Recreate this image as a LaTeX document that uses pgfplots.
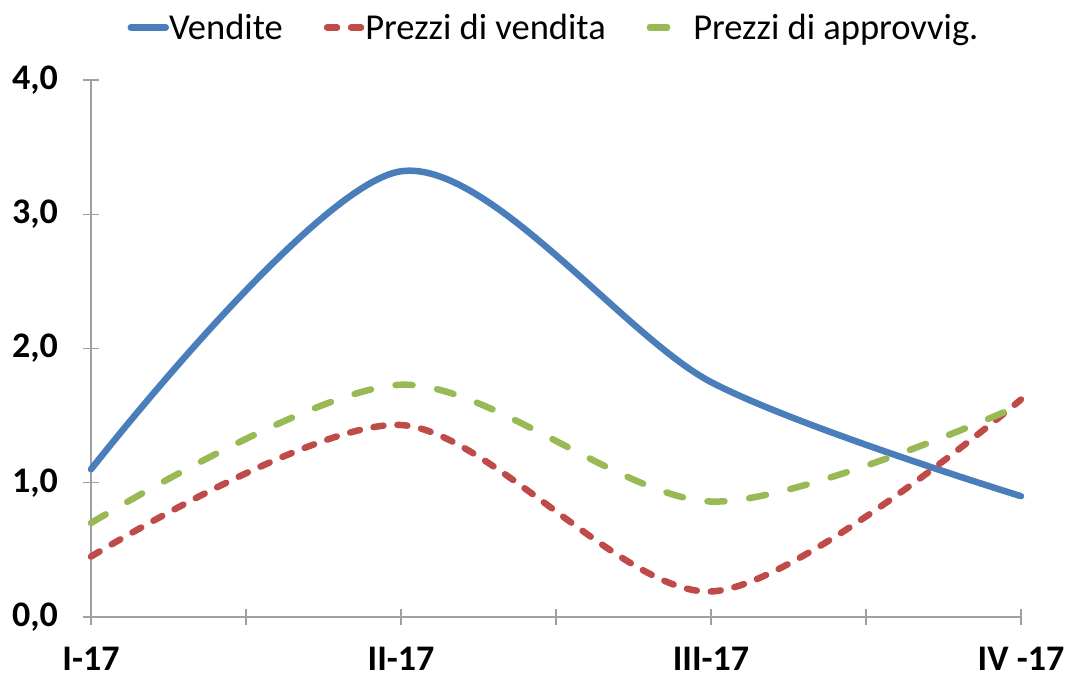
\documentclass[border=0pt]{standalone}
\usepackage{pgfplots}
\pgfplotsset{compat=1.18}
\usepackage{fontspec}
\setmainfont{Carlito}
\definecolor{cblue}{HTML}{4A7EBB}
\definecolor{cred}{HTML}{BE4B48}
\definecolor{cgreen}{HTML}{98B954}
\definecolor{axgray}{HTML}{A0A0A0}
\pgfplotsset{
  limgA/.style={legend image code/.code={\draw[##1, line width=6.5pt] (0pt,10pt) -- (35pt,10pt);}},
  limgB/.style={legend image code/.code={\draw[##1, line width=6.5pt] (0pt,10pt) -- (35pt,10pt);}},
  limgC/.style={legend image code/.code={\draw[##1, line width=6.5pt] (0pt,10pt) -- (17pt,10pt); \path (0pt,10pt) -- (40pt,10pt);}},
}
\begin{document}
\begin{tikzpicture}
\begin{axis}[
  scale only axis,
  width=930pt, height=537pt,
  xmin=0, xmax=3, ymin=0, ymax=4,
  axis lines=left,
  axis line style={axgray, line width=1.3pt, -},
  xtick={0,1,2,3},
  xticklabels={I-17,II-17,III-17,IV -17},
  minor xtick={0.5,1.5,2.5},
  ytick={0,1,2,3,4},
  tick align=center,
  major tick length=16pt,
  minor tick length=16pt,
  tick style={axgray, line width=1.3pt},
  every minor tick/.style={axgray, line width=1.3pt},
  /pgf/number format/assume math mode=true,
  yticklabel={\pgfmathprintnumber[fixed,fixed zerofill,precision=1,use comma]{\tick}},
  tick label style={font=\fontsize{36}{40}\selectfont\bfseries, inner sep=0pt},
  yticklabel style={xshift=-25pt},
  xticklabel style={yshift=-22pt},
  clip=false,
  legend columns=3,
  legend style={draw=none, fill=none, at={(axis description cs:0.5,1)}, anchor=south,
    xshift=-3pt, yshift=36pt,
    nodes={font=\fontsize{36.5}{40}\selectfont, inner sep=0pt, text height=0.65em, text depth=0.22em},
    /tikz/every even column/.append style={column sep=41pt},
    /tikz/every odd column/.append style={column sep=0pt}},
]
\addplot[cblue, line width=6.5pt, line cap=round, smooth, tension=0.5, limgA]
  coordinates {(0,1.10) (1,3.32) (2,1.75) (3,0.90)};
\addlegendentry{Vendite}
\addplot[cred, line width=6.5pt, line cap=round, smooth, tension=0.5, dash pattern=on 10pt off 14pt, limgB]
  coordinates {(0,0.45) (1,1.43) (2,0.19) (3,1.62)};
\addlegendentry{Prezzi di vendita}
\addplot[cgreen, line width=6.5pt, line cap=round, smooth, tension=0.5, dash pattern=on 17pt off 25pt, limgC]
  coordinates {(0,0.70) (1,1.73) (2,0.86) (3,1.58)};
\addlegendentry{Prezzi di approvvig.}
\end{axis}
\pgfresetboundingbox
\path (current axis.south west) ++(-91pt,-59pt) rectangle ++(1066pt,676pt);
\end{tikzpicture}
\end{document}
